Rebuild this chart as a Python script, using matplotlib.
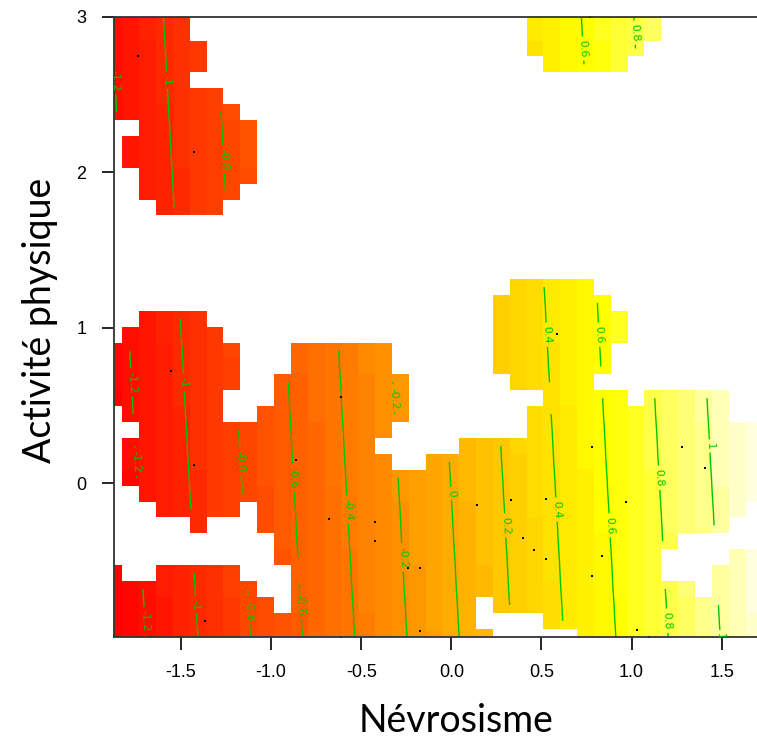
import colorsys
import numpy as np
import matplotlib
matplotlib.use("Agg")
import matplotlib.pyplot as plt
from matplotlib.colors import ListedColormap, Normalize

# prediction grid (vis.gam style, n.grid = 40)
nev_range = (-1.872, 1.773)
act_range = (-0.987, 3.0)

# fitted effect of Névrosisme for each of the 40 grid columns
nev_effect = [-1.289, -1.224, -1.160, -1.095, -1.031, -0.966, -0.902, -0.837, -0.773, -0.708,
              -0.644, -0.579, -0.515, -0.450, -0.386, -0.322, -0.257, -0.193, -0.128, -0.064,
              0.001, 0.065, 0.130, 0.194, 0.259, 0.323, 0.388, 0.452, 0.517, 0.581,
              0.646, 0.710, 0.775, 0.839, 0.904, 0.968, 1.033, 1.097, 1.162, 1.226]
# fitted effect of Activité physique for each of the 40 grid rows (bottom to top)
act_effect = [-0.033, -0.029, -0.026, -0.022, -0.019, -0.016, -0.012, -0.009, -0.006, -0.002,
              0.001, 0.005, 0.008, 0.011, 0.015, 0.018, 0.021, 0.025, 0.028, 0.032,
              0.035, 0.038, 0.042, 0.045, 0.048, 0.052, 0.055, 0.059, 0.062, 0.065,
              0.069, 0.072, 0.075, 0.079, 0.082, 0.086, 0.089, 0.092, 0.096, 0.099]

# grid cells kept (not "too far" from the data): row index -> runs of columns
kept_runs = {
    39: [(0, 4), (25, 32)], 38: [(0, 4), (25, 32)], 37: [(0, 5), (25, 31)],
    36: [(0, 5), (26, 30)], 35: [(0, 4)], 34: [(0, 6)], 33: [(0, 7)],
    32: [(2, 8)], 31: [(1, 8)], 30: [(1, 8)], 29: [(2, 8)], 28: [(2, 7)], 27: [(3, 6)],
    22: [(24, 28)], 21: [(23, 29)], 20: [(2, 5), (23, 30)], 19: [(1, 6), (23, 30)],
    18: [(0, 7), (11, 16), (23, 29)], 17: [(0, 7), (11, 16), (23, 29)],
    16: [(0, 7), (10, 17), (24, 28)], 15: [(0, 6), (10, 17), (26, 30), (32, 36)],
    14: [(1, 6), (9, 17), (25, 36)], 13: [(2, 16), (25, 39)], 12: [(1, 15), (21, 39)],
    11: [(1, 16), (19, 39)], 10: [(1, 39)], 9: [(2, 39)], 8: [(3, 7), (9, 37)],
    7: [(5, 5), (9, 36)], 6: [(10, 33)], 5: [(10, 32), (37, 39)],
    4: [(0, 0), (3, 7), (11, 32), (36, 39)], 3: [(0, 8), (11, 34), (36, 39)],
    2: [(0, 9), (11, 21), (23, 39)], 1: [(0, 21), (26, 39)], 0: [(0, 22), (28, 39)],
}

# observations
nev_obs = [-1.740, -1.428, 0.770, -1.557, -1.428, -0.612, -0.863, -0.679, -0.425, -0.425,
           -1.367, -1.872, -0.614, 0.587, 0.778, 1.280, 1.408, 0.145, 0.330, 0.526,
           0.967, 0.398, 0.459, 0.526, 0.838, 0.778, -0.240, -0.174, -0.174, 1.029, 1.096]
act_obs = [2.748, 2.131, 2.997, 0.722, 0.120, 0.557, 0.150, -0.230, -0.247, -0.369,
           -0.884, -0.980, -0.986, 0.960, 0.230, 0.230, 0.095, -0.140, -0.107, -0.100,
           -0.120, -0.353, -0.430, -0.485, -0.468, -0.597, -0.545, -0.545, -0.952, -0.941, -0.992]

x_ticks = [-1.5, -1.0, -0.5, 0.0, 0.5, 1.0, 1.5]
x_ticklabels = ["-1.5", "-1.0", "-0.5", "0.0", "0.5", "1.0", "1.5"]
y_ticks = [0, 1, 2, 3]
y_ticklabels = ["0", "1", "2", "3"]
levels = [-1.2, -1.0, -0.8, -0.6, -0.4, -0.2, 0.0, 0.2, 0.4, 0.6, 0.8, 1.0]

n = len(nev_effect)
m1 = np.linspace(nev_range[0], nev_range[1], n)
m2 = np.linspace(act_range[0], act_range[1], n)
z = np.add.outer(np.array(act_effect), np.array(nev_effect))
keep = np.zeros(z.shape, dtype=bool)
for row, runs in kept_runs.items():
    for a, b in runs:
        keep[row, a:b + 1] = True
zm = np.ma.masked_where(~keep, z)

# R heat.colors(50)
nc = 50
nj = nc // 4
ni = nc - nj
cols = [colorsys.hsv_to_rgb(h, 1, 1) for h in np.linspace(0, 1 / 6, ni)]
cols += [colorsys.hsv_to_rgb(1 / 6, s, 1) for s in np.linspace(1 - 1 / (2 * nj), 1 / (2 * nj), nj)]
heat = ListedColormap(cols)

def lab(v):
    v = round(v, 1)
    return "0" if v == 0 else f"{v:g}"

fig = plt.figure(figsize=(7.57, 7.40), dpi=100)
ax = fig.add_axes([114 / 757, 103.3 / 740, 656.8 / 757, 620 / 740])

ax.pcolormesh(m1, m2, zm, shading="nearest", cmap=heat,
              norm=Normalize(zm.min(), zm.max()), linewidth=0, antialiased=False)
cs = ax.contour(m1, m2, zm, levels=levels, colors="#00c800", linewidths=1.0,
                linestyles="solid", corner_mask=False)
ax.clabel(cs, fmt=lab, fontsize=8, inline=True, inline_spacing=3)
ax.plot(nev_obs, act_obs, "s", ms=1.6, color="black", mew=0, clip_on=False)

ax.set_xlim(nev_range)
ax.set_ylim(act_range)
ax.set_xticks(x_ticks)
ax.set_xticklabels(x_ticklabels, family="Liberation Sans", fontsize=13)
ax.set_yticks(y_ticks)
ax.set_yticklabels(y_ticklabels, family="Liberation Sans", fontsize=13)
ax.tick_params(length=9, width=1.2, pad=11)
for sp in ax.spines.values():
    sp.set_linewidth(1.3)
    sp.set_color("#333333")

fig.text(456 / 757, 8 / 740, "Névrosisme", family="Lato", fontsize=27, ha="center", va="baseline")
fig.text(40 / 757, (740 - 320) / 740, "Activité physique", family="Lato", fontsize=27,
         rotation=90, ha="center", va="center")

fig.savefig("out.png", dpi=100)
